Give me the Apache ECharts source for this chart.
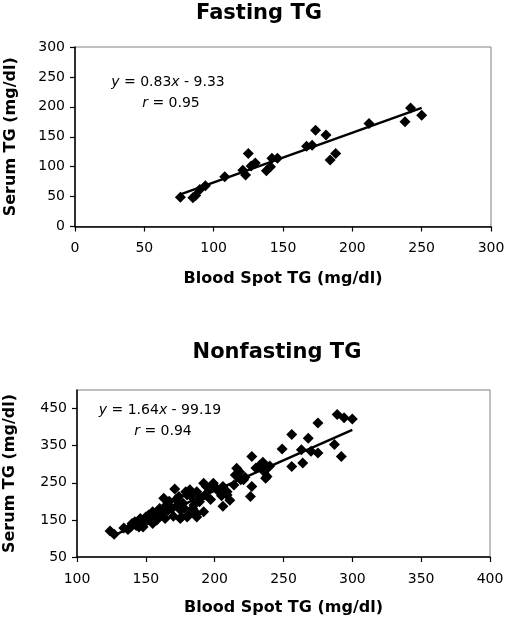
<!DOCTYPE html>
<html>
<head>
<meta charset="utf-8">
<script src="https://cdn.jsdelivr.net/npm/echarts@6/dist/echarts.min.js"></script>
<style>
html,body{margin:0;padding:0;background:#fff;}
#chart{width:508px;height:620px;}
</style>
</head>
<body>
<div id="chart"></div>
<script>
// ---- Data ----
const fastingTitle = 'Fasting TG';
const nonfastingTitle = 'Nonfasting TG';
const xAxisName = 'Blood Spot TG (mg/dl)';
const yAxisName = 'Serum TG (mg/dl)';

const fastX = [76, 85, 87, 90, 94, 108, 121, 123, 125, 127, 130, 138, 141, 142, 146, 167, 171, 173.5, 181, 184, 188, 212, 238, 242, 250];
const fastY = [49, 48, 52, 62, 68, 83, 94, 86, 122, 101, 106, 93, 100, 114, 114, 134, 136, 161, 153, 111, 122, 172, 175, 198, 186];

const nonX = [124, 127, 134, 137, 139, 140, 142, 143, 145, 146, 146, 148, 148, 150, 150, 152, 153, 155, 155, 157,
  158, 160, 160, 162, 163, 164, 165, 166, 167, 169, 170, 171, 172, 173, 174, 175, 175, 176, 177, 178,
  179, 180, 180, 181, 182, 183, 184, 185, 187, 187, 187, 189, 190, 192, 192, 193, 194, 196, 197, 199,
  200, 202, 205, 206, 206, 209, 209, 211, 214, 215, 216, 218, 219, 221, 222, 226, 227, 227, 230, 233,
  235, 237, 238, 238, 236, 249, 256, 256, 263, 264, 268, 275, 275, 287, 289, 292, 294, 300, 270, 240];
const nonY = [120, 111, 128, 124, 131, 140, 145, 135, 131, 154, 148, 131, 140, 145, 158, 163, 150, 172, 140, 160,
  150, 181, 165, 170, 208, 154, 190, 175, 200, 181, 160, 233, 205, 190, 213, 177, 154, 158, 195, 181,
  226, 217, 158, 163, 231, 213, 181, 190, 226, 167, 158, 199, 210, 172, 249, 217, 240, 235, 205, 249,
  240, 230, 215, 187, 240, 226, 217, 203, 244, 271, 289, 280, 258, 258, 265, 213, 240, 321, 290, 298,
  305, 262, 289, 267, 280, 341, 380, 294, 339, 303, 370, 330, 411, 353, 434, 321, 425, 422, 335, 295];

const fastFit = { slope: 0.83, intercept: -9.33, from: 76, to: 250 };
const nonFit = { slope: 1.64, intercept: -99.19, from: 125, to: 300 };
const fastEq = ['0.83', '9.33', '0.95'];
const nonEq = ['1.64', '99.19', '0.94'];

const fastXTicks = { min: 0, max: 300, interval: 50 };
const fastYTicks = { min: 0, max: 300, interval: 50 };
const nonXTicks = { min: 100, max: 400, interval: 50 };
const nonYTicks = { min: 50, max: 500, interval: 100 };

// ---- Build ----
const FONT = '"DejaVu Sans", "Liberation Sans", Arial, sans-serif';
const pairs = (xs, ys) => xs.map((x, i) => [x, ys[i]]);
const fitLine = f => [[f.from, f.slope * f.from + f.intercept], [f.to, f.slope * f.to + f.intercept]];

function xAxisCfg(idx, t, gap) {
  return {
    type: 'value', gridIndex: idx, min: t.min, max: t.max, interval: t.interval,
    name: xAxisName, nameLocation: 'middle', nameGap: gap,
    nameTextStyle: { fontFamily: FONT, fontWeight: 'bold', fontSize: 16, color: '#000' },
    axisLine: { show: true, onZero: false, lineStyle: { color: '#000', width: 1.5 } },
    axisTick: { show: true, inside: false, length: 5, lineStyle: { color: '#000', width: 1.2 } },
    axisLabel: { fontFamily: FONT, fontSize: 14, color: '#000', margin: 15 },
    splitLine: { show: false }
  };
}
function yAxisCfg(idx, t, gap, showMax) {
  return {
    type: 'value', gridIndex: idx, min: t.min, max: t.max, interval: t.interval,
    name: yAxisName, nameLocation: 'middle', nameGap: gap, nameRotate: 90,
    nameTextStyle: { fontFamily: FONT, fontWeight: 'bold', fontSize: 16, color: '#000' },
    axisLine: { show: true, onZero: false, lineStyle: { color: '#000', width: 1.5 } },
    axisTick: { show: true, inside: false, length: 5, lineStyle: { color: '#000', width: 1.2 } },
    axisLabel: { fontFamily: FONT, fontSize: 14, color: '#000', margin: 10, showMaxLabel: showMax },
    splitLine: { show: false }
  };
}

function eqText(cx, cy, eq) {
  const n = '14px ' + FONT, it = 'italic 14px ' + FONT;
  return [
    { type: 'text', x: cx, y: cy, z: 100, style: {
      text: '{i|y}{n| = ' + eq[0] + '}{i|x}{n| - ' + eq[1] + '}',
      align: 'center', verticalAlign: 'middle', textAlign: 'center', textVerticalAlign: 'middle',
      fill: '#000', rich: { i: { font: it, fill: '#000' }, n: { font: n, fill: '#000' } } } },
    { type: 'text', x: cx + 3, y: cy + 21, z: 100, style: {
      text: '{i|r}{n| = ' + eq[2] + '}',
      align: 'center', verticalAlign: 'middle', textAlign: 'center', textVerticalAlign: 'middle',
      fill: '#000', rich: { i: { font: it, fill: '#000' }, n: { font: n, fill: '#000' } } } }
  ];
}

const chart = echarts.init(document.getElementById('chart'), null, { renderer: 'canvas' });
chart.setOption({
  animation: false,
  backgroundColor: '#fff',
  grid: [
    { left: 75, top: 47, width: 416, height: 179.5, show: true, borderColor: '#808080', borderWidth: 1,
      backgroundColor: 'transparent', containLabel: false, outerBoundsMode: 'none' },
    { left: 77, top: 390, width: 413, height: 167, show: true, borderColor: '#808080', borderWidth: 1,
      backgroundColor: 'transparent', containLabel: false, outerBoundsMode: 'none' }
  ],
  xAxis: [xAxisCfg(0, fastXTicks, 44), xAxisCfg(1, nonXTicks, 43)],
  yAxis: [yAxisCfg(0, fastYTicks, 56, true), yAxisCfg(1, nonYTicks, 59, false)],
  graphic: [
    { type: 'text', x: 259, y: 14, style: { text: fastingTitle, font: 'bold 21px ' + FONT, fill: '#000',
      align: 'center', verticalAlign: 'middle', textAlign: 'center', textVerticalAlign: 'middle' } },
    { type: 'text', x: 277, y: 353, style: { text: nonfastingTitle, font: 'bold 21px ' + FONT, fill: '#000',
      align: 'center', verticalAlign: 'middle', textAlign: 'center', textVerticalAlign: 'middle' } },
    ...eqText(168, 82, fastEq),
    ...eqText(160, 410, nonEq)
  ],
  series: [
    { type: 'scatter', xAxisIndex: 0, yAxisIndex: 0, data: pairs(fastX, fastY), symbol: 'diamond', symbolSize: 11,
      itemStyle: { color: '#000', opacity: 1 }, z: 3 },
    { type: 'line', xAxisIndex: 0, yAxisIndex: 0, data: fitLine(fastFit), showSymbol: false, symbol: 'none',
      lineStyle: { color: '#000', width: 2.5 }, z: 4 },
    { type: 'scatter', xAxisIndex: 1, yAxisIndex: 1, data: pairs(nonX, nonY), symbol: 'diamond', symbolSize: 11,
      itemStyle: { color: '#000', opacity: 1 }, z: 3 },
    { type: 'line', xAxisIndex: 1, yAxisIndex: 1, data: fitLine(nonFit), showSymbol: false, symbol: 'none',
      lineStyle: { color: '#000', width: 2.5 }, z: 4 }
  ]
});
</script>
</body>
</html>
